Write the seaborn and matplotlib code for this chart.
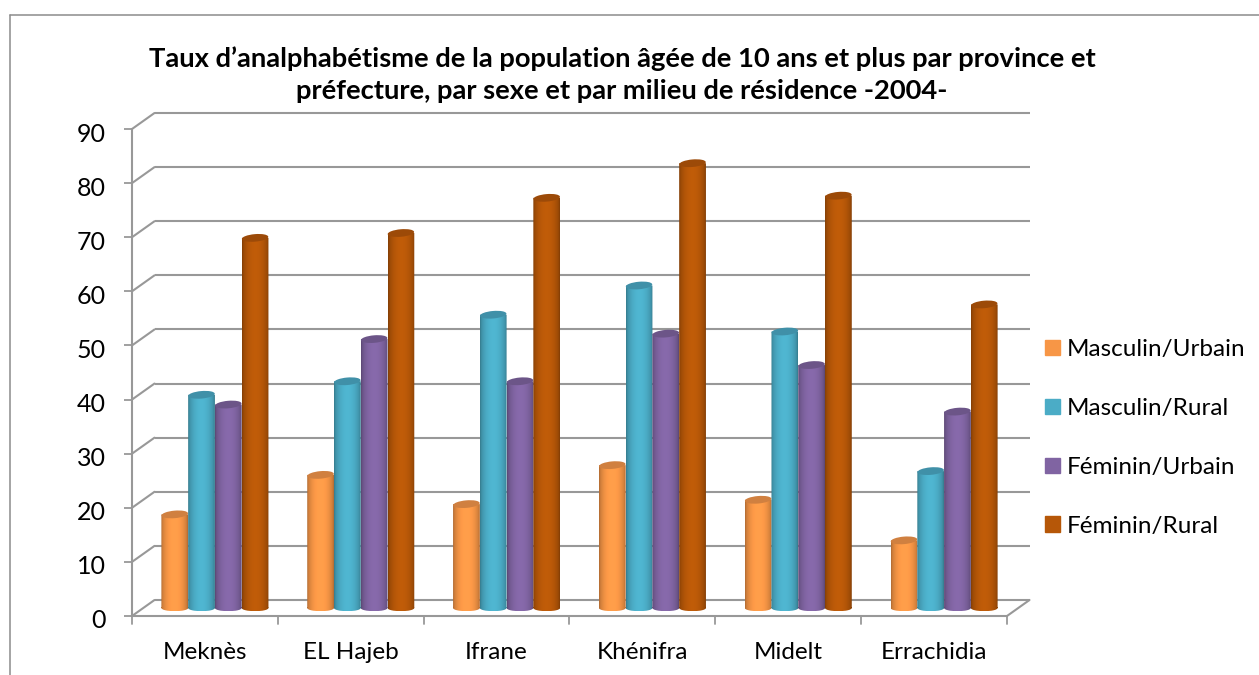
import numpy as np
import pandas as pd
import matplotlib
matplotlib.use("Agg")
import matplotlib.pyplot as plt
import seaborn as sns
from matplotlib.path import Path
from matplotlib.patches import Ellipse, Rectangle
from matplotlib.transforms import Affine2D
from matplotlib.lines import Line2D

provinces = ["Meknès", "EL Hajeb", "Ifrane", "Khénifra", "Midelt", "Errachidia"]
series = ["Masculin/Urbain", "Masculin/Rural", "Féminin/Urbain", "Féminin/Rural"]
masc_urbain = [17.3, 24.6, 19.2, 26.4, 20.0, 12.5]
masc_rural = [39.4, 41.9, 54.2, 59.6, 51.1, 25.3]
fem_urbain = [37.6, 49.7, 41.9, 50.7, 44.9, 36.3]
fem_rural = [68.4, 69.3, 75.8, 82.2, 76.2, 56.1]
colors = ["#F79646", "#4BACC6", "#8064A2", "#B65708"]
cap_colors = ["#D08040", "#4090A8", "#6C5588", "#9C4A08"]
y_ticks = list(range(0, 100, 10))

W, H = 1259, 675
GRID = "#989898"

df = pd.DataFrame({"province": provinces, series[0]: masc_urbain, series[1]: masc_rural,
                   series[2]: fem_urbain, series[3]: fem_rural})
long = df.melt(id_vars="province", var_name="serie", value_name="taux")

sns.set_theme(style="white")
plt.rcParams["font.family"] = ["Lato", "DejaVu Sans"]

fig = plt.figure(figsize=(W / 100, H / 100), dpi=100)
# front edge of the 3D box in pixels: x 132-1007, y 616 (0) to 129 (90)
ax = fig.add_axes([132 / W, 1 - 616 / H, 875 / W, 487 / H])

sns.barplot(data=long, x="province", y="taux", hue="serie", hue_order=series,
            order=provinces, palette=colors, width=0.734, gap=0, saturation=1,
            dodge=True, ax=ax, legend=True)
ax.set_xlim(-0.5, 5.5)
ax.set_ylim(0, 90)
ax.set_xlabel("")
ax.set_ylabel("")
sns.despine(ax=ax, left=True, bottom=True, right=True, top=True)
ax.set_facecolor("none")

# pixel shifts for the fake depth
to_back = ax.transData + Affine2D().translate(22.5, 16)
to_bar = ax.transData + Affine2D().translate(10, 8)

# back wall and side wall lines
x_min, x_max = ax.get_xlim()
dx_depth = 22.5 * 6 / 875
dy_depth = 16 * 90 / 487
for v in y_ticks:
    ax.plot([x_min, x_max], [v, v], color=GRID, lw=1.5, transform=to_back,
            clip_on=False, zorder=0.5, solid_capstyle="butt")
    ax.plot([x_min, x_min + dx_depth], [v, v + dy_depth], color=GRID, lw=1.5,
            clip_on=False, zorder=0.5)
# left axis, floor front and right floor edge
ax.plot([x_min, x_min], [0, 90], color=GRID, lw=1.5, clip_on=False, zorder=0.6)
ax.plot([x_min, x_max], [0, 0], color=GRID, lw=1.5, clip_on=False, zorder=0.6)
ax.plot([x_max, x_max + dx_depth], [0, dy_depth], color=GRID, lw=1.5,
        clip_on=False, zorder=0.6)

ax.set_yticks(y_ticks)
ax.set_xticks(np.arange(6))
ax.set_xticklabels(provinces)
ax.tick_params(axis="y", length=6, width=1.3, color=GRID, labelsize=18, pad=13,
               left=True, labelcolor="black")
ax.tick_params(axis="x", length=0, labelsize=17.5, pad=18.5, labelcolor="black")
for xt in np.arange(-0.5, 6):
    ax.plot([xt, xt], [0, -8 * 90 / 487], color=GRID, lw=1.3, clip_on=False, zorder=0.6)
for lab in ax.get_yticklabels():
    lab.set_transform(lab.get_transform() + Affine2D().translate(0, -3))

# turn flat bars into shaded cylinders
u = np.linspace(0, 1, 64)
shade = 0.70 + 0.36 * np.sin(np.pi * u) ** 0.55
e = 3.2 * 90 / 487

bars = [p for p in ax.patches if isinstance(p, Rectangle) and p.get_height() > 0]
for bar in bars:
    x0, w, h = bar.get_x(), bar.get_width(), bar.get_height()
    idx = colors.index(matplotlib.colors.to_hex(bar.get_facecolor()).upper())
    rgb = np.array(matplotlib.colors.to_rgb(colors[idx]))
    grad = np.clip(rgb[None, None, :] * shade[None, :, None], 0, 1)
    im = ax.imshow(grad, extent=(x0, x0 + w, -e, h + e), aspect="auto", zorder=3,
                   interpolation="bilinear", transform=to_bar)
    outline = Path.make_compound_path(
        Path.unit_rectangle().transformed(Affine2D().scale(w, h).translate(x0, 0)),
        Path.unit_circle().transformed(Affine2D().scale(w / 2, e).translate(x0 + w / 2, 0)),
    )
    im.set_clip_path(outline, to_bar)
    im.set_clip_box(None)
    # top cap is slightly tilted, so it is placed in pixels
    ax.set_xlim(x_min, x_max)
    ax.set_ylim(0, 90)
    px, py = to_bar.transform((x0 + w / 2, h))
    ax.add_patch(Ellipse((0, 0), 26.5, 7.5, angle=5, facecolor=cap_colors[idx], edgecolor="none",
                         transform=Affine2D().translate(px, py), zorder=4, clip_on=False))
    bar.set_visible(False)
ax.set_xlim(x_min, x_max)
ax.set_ylim(0, 90)

handles = [Rectangle((0, 0), 1, 1, color=c) for c in colors]
ax.legend(handles, series, frameon=False, loc="center left", fontsize=17.5,
          bbox_to_anchor=(1045 / W, 1 - 438 / H), bbox_transform=fig.transFigure,
          handlelength=0.62, handleheight=0.62, handletextpad=0.29, labelspacing=1.56,
          borderaxespad=0, borderpad=0, labelcolor="black")

fig.text(622 / W, 1 - 58.5 / H, "Taux d’analphabétisme de la population âgée de 10 ans et plus par province et",
         ha="center", va="center", fontsize=19.7, fontweight="bold", color="black")
fig.text(622 / W, 1 - 91 / H, "préfecture, par sexe et par milieu de résidence -2004-",
         ha="center", va="center", fontsize=19.7, fontweight="bold", color="black")

# chart frame, only top and left show in the crop
for xs, ys in [((9.5, 9.5), (675, 14.5)), ((9.5, 1259), (14.5, 14.5))]:
    fig.add_artist(Line2D([x / W for x in xs], [1 - y / H for y in ys], color="#8C8C8C", lw=1.1))

fig.savefig("out.png", dpi=100)
